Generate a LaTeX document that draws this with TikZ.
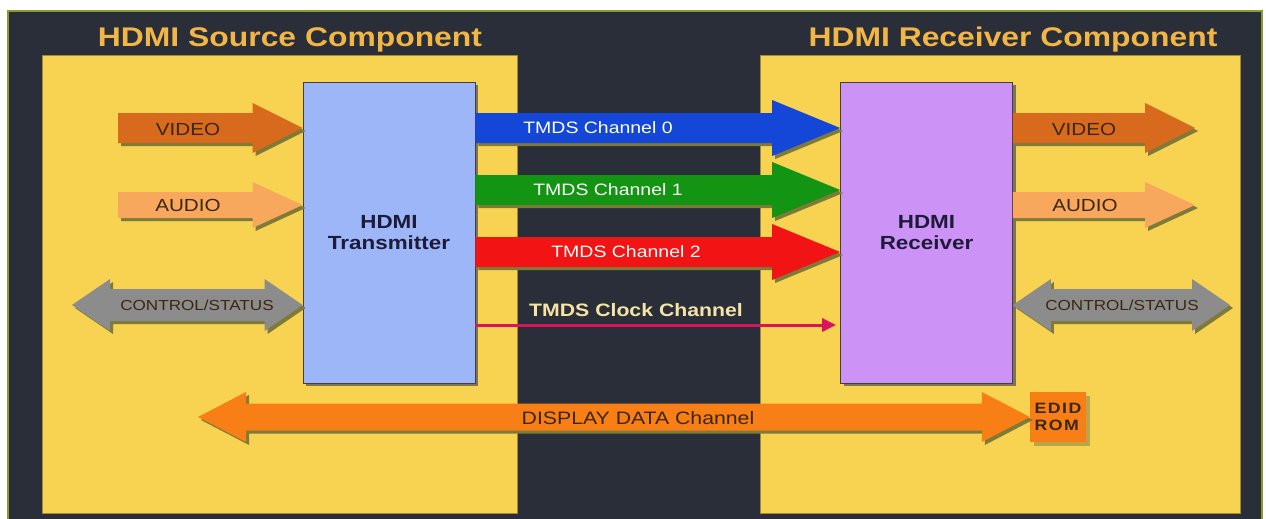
\documentclass[tikz,border=0pt]{standalone}
\usepackage{fontspec}
\setmainfont{Liberation Sans}[FakeStretch=1.18]
\usetikzlibrary{calc,shadows,arrows.meta}

\definecolor{bgdark}{HTML}{2A2E38}
\definecolor{frameol}{HTML}{8C9A2E}
\definecolor{panelyel}{HTML}{F8D352}
\definecolor{titlegold}{HTML}{F2B646}
\definecolor{txblue}{HTML}{9DB6F8}
\definecolor{rxpurple}{HTML}{CC92F6}
\definecolor{vidorange}{HTML}{D86A1E}
\definecolor{audorange}{HTML}{F8A85C}
\definecolor{ctlgrey}{HTML}{8C8C8C}
\definecolor{tmdsblue}{HTML}{1446D8}
\definecolor{tmdsgreen}{HTML}{139413}
\definecolor{tmdsred}{HTML}{F21414}
\definecolor{clkpink}{HTML}{D8145C}
\definecolor{clktext}{HTML}{F4E4A8}
\definecolor{ddcorange}{HTML}{F87E16}
\definecolor{inktext}{HTML}{3C2610}
\definecolor{chipink}{HTML}{1E1A3A}
\definecolor{arrshadow}{HTML}{7E7A38}

\newcommand\fsz[1]{\fontsize{#1}{1.15\dimexpr#1pt\relax}\selectfont}
% from, to, half shaft, half head, head length
\newcommand\blkpath[5]{($(#1)+(0,-#3)$) -- ($(#2)+(-#5,-#3)$) -- ($(#2)+(-#5,-#4)$) -- (#2)
  -- ($(#2)+(-#5,#4)$) -- ($(#2)+(-#5,#3)$) -- ($(#1)+(0,#3)$) -- cycle}
\newcommand\dblpath[5]{(#1) -- ($(#1)+(#5,-#4)$) -- ($(#1)+(#5,-#3)$) -- ($(#2)+(-#5,-#3)$)
  -- ($(#2)+(-#5,-#4)$) -- (#2) -- ($(#2)+(-#5,#4)$) -- ($(#2)+(-#5,#3)$)
  -- ($(#1)+(#5,#3)$) -- ($(#1)+(#5,#4)$) -- cycle}
\newcommand\blkarrow[6]{%
  \fill[arrshadow,transform canvas={shift={(3pt,-3pt)}}] \blkpath{#2}{#3}{#4}{#5}{#6};
  \fill[#1] \blkpath{#2}{#3}{#4}{#5}{#6};}
\newcommand\dblarrow[6]{%
  \fill[arrshadow,transform canvas={shift={(3pt,-3pt)}}] \dblpath{#2}{#3}{#4}{#5}{#6};
  \fill[#1] \dblpath{#2}{#3}{#4}{#5}{#6};}

\tikzset{
  panel/.style={fill=panelyel,draw=black!35!panelyel,line width=.8pt,inner sep=0pt},
  paneltitle/.style={text=titlegold,font=\bfseries\fsz{27}},
  chipbox/.style={draw=black!75,line width=.8pt,minimum width=172pt,minimum height=301pt,
    drop shadow={shadow xshift=3pt,shadow yshift=-3pt,fill=black!70,opacity=.7},
    text=chipink,align=center,font=\bfseries\fsz{19}},
  arrlbl/.style={text=inktext,font=\fsz{17.5},inner sep=0pt},
  ctllbl/.style={text=inktext,font=\fsz{14.5},inner sep=0pt},
  chlbl/.style={text=white,font=\fsz{16.5},inner sep=0pt},
  clklbl/.style={text=clktext,font=\bfseries\fsz{18},inner sep=0pt},
  clkline/.style={draw=clkpink,line width=3pt,-{Triangle[length=14pt,width=13pt]},shorten >=4pt},
  edidbox/.style={fill=ddcorange,minimum width=56pt,minimum height=50pt,inner sep=0pt,
    drop shadow={shadow xshift=4pt,shadow yshift=-4pt,fill=arrshadow},
    text=inktext,align=left,font=\bfseries\fsz{15}\addfontfeature{LetterSpace=10}}
}

\begin{document}
\begin{tikzpicture}[x=1pt,y=-1pt]
  \useasboundingbox (0,0) rectangle (1266,519);
  \fill[white] (0,0) rectangle (1266,519);
  \fill[bgdark] (8,11) rectangle (1262,519);
  \draw[frameol,line width=2pt] (8,519) -- (8,11) -- (1262,11) -- (1262,519);

  \node[panel,minimum width=475pt,minimum height=458pt] (srcpanel) at (279.5,284) {};
  \node[panel,minimum width=480pt,minimum height=458pt] (rxpanel) at (1000,284) {};
  \node[paneltitle] (srctitle) at (290,40) {HDMI Source Component};
  \node[paneltitle] (rxtitle) at (1013,40) {HDMI Receiver Component};

  \node[chipbox,fill=txblue] (tx) at (389,232.5) {HDMI\\Transmitter};
  \node[chipbox,fill=rxpurple] (rx) at (926.5,232.5) {HDMI\\Receiver};

  % inputs / outputs
  \coordinate (vidin) at (118,128);
  \coordinate (audin) at (118,205);
  \coordinate (ctlin) at (72,305);
  \coordinate (vidout) at (1195,128);
  \coordinate (audout) at (1195,205);
  \coordinate (ctlout) at (1230,305);
  \coordinate (vidinE) at (vidin -| tx.west);
  \coordinate (audinE) at (audin -| tx.west);
  \coordinate (ctlinE) at (ctlin -| tx.west);
  \coordinate (vidoutS) at (vidout -| rx.east);
  \coordinate (audoutS) at (audout -| rx.east);
  \coordinate (ctloutS) at (ctlout -| rx.east);

  \blkarrow{vidorange}{vidin}{vidinE}{15}{25}{50}
  \blkarrow{audorange}{audin}{audinE}{13}{23}{50}
  \dblarrow{ctlgrey}{ctlin}{ctlinE}{16}{26}{38}
  \blkarrow{vidorange}{vidoutS}{vidout}{15}{25}{50}
  \blkarrow{audorange}{audoutS}{audout}{13}{23}{50}
  \dblarrow{ctlgrey}{ctloutS}{ctlout}{16}{26}{38}

  \node[arrlbl] (vidinlbl) at (188,129) {VIDEO};
  \node[arrlbl] (audinlbl) at (188,205) {AUDIO};
  \node[ctllbl] (ctlinlbl) at (197,305) {CONTROL/STATUS};
  \node[arrlbl] (vidoutlbl) at (1084,129) {VIDEO};
  \node[arrlbl] (audoutlbl) at (1085,205) {AUDIO};
  \node[ctllbl] (ctloutlbl) at (1122,305) {CONTROL/STATUS};

  % TMDS channels
  \foreach \n/\y/\c/\lx in {0/128/tmdsblue/598,1/190/tmdsgreen/608,2/252/tmdsred/626}{
    \coordinate (ch\n a) at (tx.east |- 0,\y);
    \coordinate (ch\n b) at (rx.west |- 0,\y);
    \blkarrow{\c}{ch\n a}{ch\n b}{15}{28}{68}
    \node[chlbl] (ch\n lbl) at (\lx,\y) {TMDS Channel \n};
  }
  \coordinate (clka) at (tx.east |- 0,325);
  \coordinate (clkb) at (rx.west |- 0,325);
  \draw[clkline] (clka) -- (clkb);
  \node[clklbl] (clklbl) at (636,310) {TMDS Clock Channel};

  % DDC
  \node[edidbox] (edid) at (1058,417) {EDID\\ROM};
  \coordinate (ddcend) at (198,417);
  \dblarrow{ddcorange}{ddcend}{edid.west}{13.5}{25}{48}
  \node[arrlbl,font=\fsz{18}] (ddclbl) at (638,418) {DISPLAY DATA Channel};
\end{tikzpicture}
\end{document}
